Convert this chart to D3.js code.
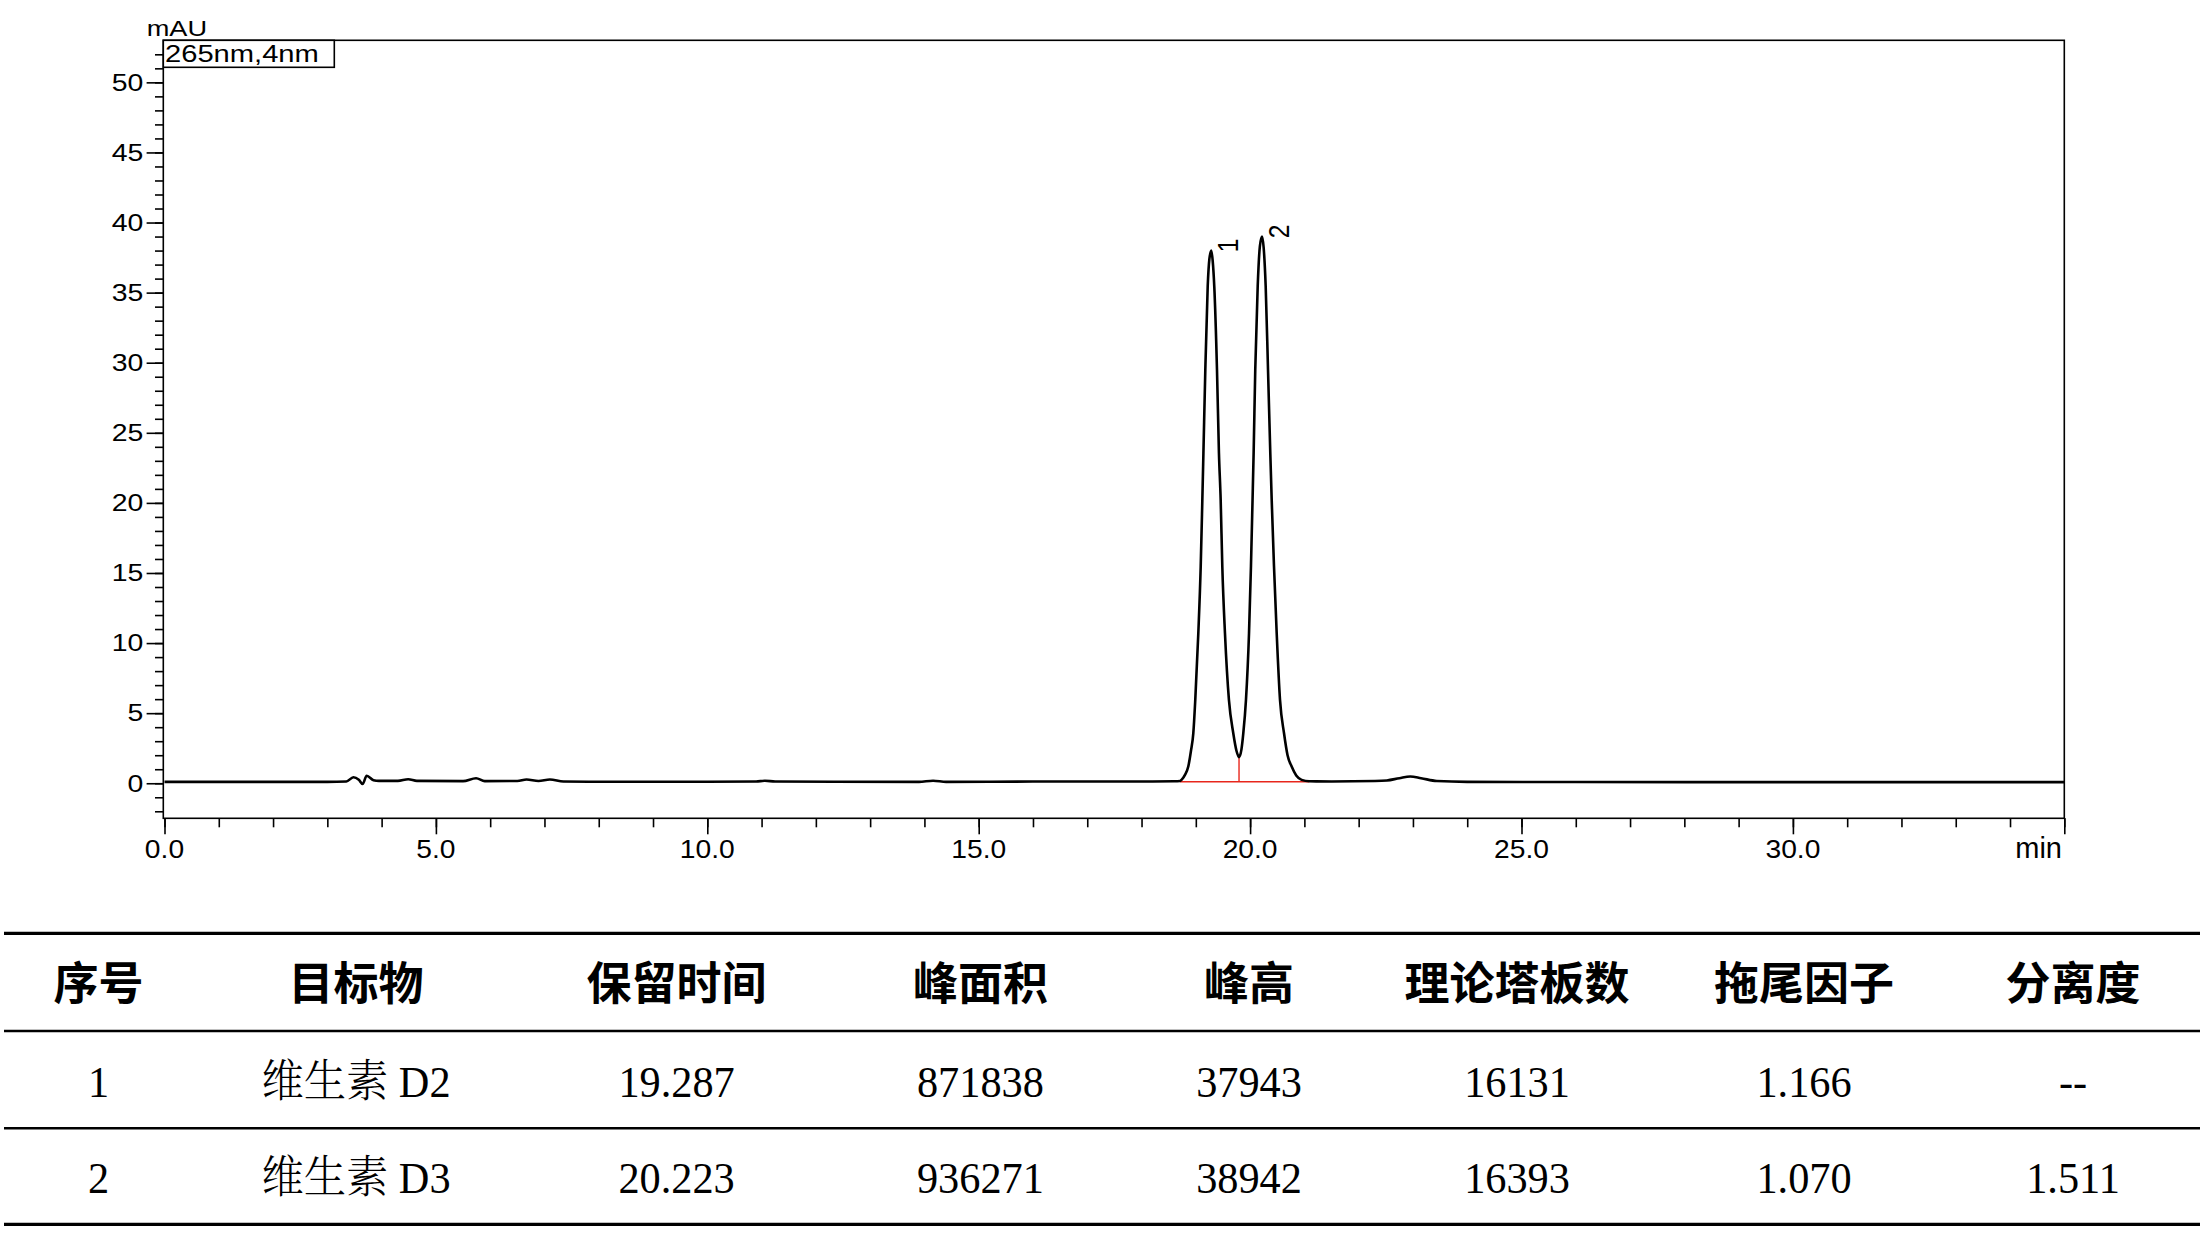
<!DOCTYPE html>
<html><head><meta charset="utf-8">
<script src="https://cdn.jsdelivr.net/npm/d3@7/dist/d3.min.js"></script>
<style>html,body{margin:0;padding:0;background:#fff}svg{display:block}</style>
</head><body>
<svg id="c" width="2200" height="1244"></svg>
<script>
// ---------- data ----------
const traceTime = [0,1.5,3.0,3.35,3.48,3.58,3.65,3.725,3.85,3.95,4.3,4.49,4.65,5.5,5.74,5.9,6.5,6.67,6.89,7.1,7.35,8.0,10.0,10.9,11.06,11.25,13.9,14.16,14.4,16.0,17.5,18.2,18.6,
  18.708,18.74,18.80,18.861,18.91,18.954,18.99,19.046,19.09,19.12,19.14,19.175,19.219,19.25,19.285,19.31,19.34,19.39,19.426,19.458,19.488,19.537,19.61,19.69,19.75,19.796,
  19.84,19.875,19.924,19.98,20.016,20.045,20.065,20.095,20.14,20.18,20.22,20.25,20.287,20.33,20.372,20.398,20.44,20.49,20.551,20.625,20.69,20.766,20.85,20.95,21.09,
  21.5,22.3,22.52,22.75,22.95,23.15,23.44,24.0,26.0,30.0,35.0];
const traceMAU = [0.10,0.10,0.10,0.12,0.43,0.25,-0.05,0.54,0.22,0.17,0.17,0.29,0.17,0.15,0.36,0.15,0.16,0.27,0.16,0.27,0.13,0.11,0.11,0.12,0.18,0.12,0.10,0.18,0.10,0.12,0.12,0.13,0.14,
  0.16,0.26,0.60,1.19,2.3,3.57,5.95,10.7,15.46,20.2,23.55,29.5,35.45,37.4,38.0,37.3,35.45,29.5,23.55,20.2,15.46,10.7,5.95,3.57,2.3,1.86,
  2.4,3.57,5.95,10.7,15.5,20.2,23.55,29.5,35.45,38.3,39.0,38.2,35.45,29.5,23.55,20.2,15.5,10.7,5.95,3.57,2.0,1.19,0.55,0.24,0.14,
  0.13,0.16,0.20,0.36,0.48,0.36,0.16,0.10,0.09,0.08,0.08];

const peakNo = ["1", "2"];
const peakTime = [19.287, 20.223];
const peakHeight = [37943, 38942]; // µAU
const integStart = 18.708, integEnd = 21.09, valleyTime = 19.796, valleyMAU = 1.86, baseMAU = 0.11;

const xMajor = [0,5,10,15,20,25,30];
const xMajorLabels = ["0.0","5.0","10.0","15.0","20.0","25.0","30.0"];
const yMajor = [0,5,10,15,20,25,30,35,40,45,50];
const yMajorLabels = ["0","5","10","15","20","25","30","35","40","45","50"];

const tableHeader = ["序号","目标物","保留时间","峰面积","峰高","理论塔板数","拖尾因子","分离度"];
const colNo = ["1","2"];
const colName = ["维生素 D2","维生素 D3"];
const colRT = ["19.287","20.223"];
const colArea = ["871838","936271"];
const colHeight = ["37943","38942"];
const colPlates = ["16131","16393"];
const colTailing = ["1.166","1.070"];
const colRes = ["--","1.511"];

// ---------- layout ----------
const svg = d3.select("#c");
const L = 163.3, R = 2064.3, T = 40.3, B = 818.3;
const x = d3.scaleLinear().domain([0, 35]).range([164.5, R]);
const y = d3.scaleLinear().domain([-2.5, 53]).range([B, T]);
const sans = "'Liberation Sans', Arial, sans-serif";

function stext(g, px, py, str, size, sx, anchor) {
  return g.append("text")
    .attr("transform", `translate(${px},${py}) scale(${sx},1)`)
    .attr("text-anchor", anchor).attr("font-family", sans)
    .attr("font-size", size).attr("fill", "#000").text(str);
}

const chart = svg.append("g");

// frame
chart.append("rect").attr("x", L).attr("y", T).attr("width", R - L).attr("height", B - T)
  .attr("fill", "none").attr("stroke", "#000").attr("stroke-width", 1.6);

// x axis ticks
const xMinor = d3.range(0, 36, 1);
const gxMin = chart.append("g").attr("transform", `translate(0,${B})`)
  .call(d3.axisBottom(x).tickValues(xMinor).tickSize(9).tickSizeOuter(0).tickFormat(""));
const gxMaj = chart.append("g").attr("transform", `translate(0,${B})`)
  .call(d3.axisBottom(x).tickValues(xMajor.concat([35])).tickSize(16).tickSizeOuter(0).tickFormat(""));
[gxMin, gxMaj].forEach(g => { g.select(".domain").remove(); g.selectAll("line").attr("stroke", "#000").attr("stroke-width", 1.6); });
xMajor.forEach((v, i) => stext(chart, x(v), 858, xMajorLabels[i], 25, 1.13, "middle"));
stext(chart, 2062, 858, "min", 29, 1.0, "end");

// y axis ticks
const yMinor = d3.range(-2, 53, 1);
const gyMin = chart.append("g").attr("transform", `translate(${L},0)`)
  .call(d3.axisLeft(y).tickValues(yMinor).tickSize(8.3).tickSizeOuter(0).tickFormat(""));
const gyMaj = chart.append("g").attr("transform", `translate(${L},0)`)
  .call(d3.axisLeft(y).tickValues(yMajor).tickSize(16.7).tickSizeOuter(0).tickFormat(""));
[gyMin, gyMaj].forEach(g => { g.select(".domain").remove(); g.selectAll("line").attr("stroke", "#000").attr("stroke-width", 1.6); });
yMajor.forEach((v, i) => stext(chart, 143.3, y(v) + 8.3, yMajorLabels[i], 23.3, 1.22, "end"));

stext(chart, 146.7, 36, "mAU", 22.3, 1.22, "start");

// channel box
chart.append("rect").attr("x", L).attr("y", T).attr("width", 171).attr("height", 27)
  .attr("fill", "#fff").attr("stroke", "#000").attr("stroke-width", 1.6);
stext(chart, 165, 62, "265nm,4nm", 24.7, 1.18, "start");

// integration baseline (red)
chart.append("line").attr("x1", x(integStart)).attr("x2", x(integEnd))
  .attr("y1", y(baseMAU)).attr("y2", y(baseMAU)).attr("stroke", "#e8261c").attr("stroke-width", 1.6);
chart.append("line").attr("x1", x(valleyTime)).attr("x2", x(valleyTime))
  .attr("y1", y(baseMAU)).attr("y2", y(valleyMAU)).attr("stroke", "#e8261c").attr("stroke-width", 1.4);

// trace
const pts = traceTime.map((t, i) => [t, traceMAU[i]]);
chart.append("path").datum(pts)
  .attr("d", d3.line().x(d => x(d[0])).y(d => y(d[1])).curve(d3.curveMonotoneX))
  .attr("fill", "none").attr("stroke", "#000").attr("stroke-width", 2.6).attr("stroke-linejoin", "round");

// peak labels
peakNo.forEach((p, i) => {
  chart.append("text")
    .attr("transform", `translate(${x(peakTime[i]) + 27},${y(peakHeight[i] / 1000) + 1}) scale(1.22,1) rotate(-90)`)
    .attr("font-family", sans).attr("font-size", 24.5).attr("text-anchor", "start").text(p);
});

// ---------- table ----------
const tbl = svg.append("g");
const colX = [98.5, 356, 676.6, 980.4, 1249, 1517, 1804, 2073];
[[933.3, 3.2], [1031, 2.6], [1128.3, 2.6], [1224.3, 3.2]].forEach(([ly, w]) => {
  tbl.append("line").attr("x1", 4).attr("x2", 2200).attr("y1", ly).attr("y2", ly)
    .attr("stroke", "#000").attr("stroke-width", w);
});
tableHeader.forEach((h, i) => {
  tbl.append("text").attr("x", colX[i]).attr("y", 1000).attr("text-anchor", "middle")
    .attr("font-family", "'Noto Sans CJK SC', sans-serif").attr("font-weight", 700)
    .attr("font-size", 45).text(h);
});
const rows = [colNo, colName, colRT, colArea, colHeight, colPlates, colTailing, colRes];
const rowBase = [1096.7, 1193];
rows.forEach((col, ci) => {
  col.forEach((v, ri) => {
    tbl.append("text").attr("transform", `translate(${colX[ci]},${rowBase[ri]}) scale(0.94,1)`)
      .attr("text-anchor", "middle")
      .attr("font-family", "'Liberation Serif', 'Noto Serif CJK SC', 'Noto Sans CJK SC', serif")
      .attr("font-weight", 300).attr("font-size", 45).text(v);
  });
});
</script>
</body></html>
